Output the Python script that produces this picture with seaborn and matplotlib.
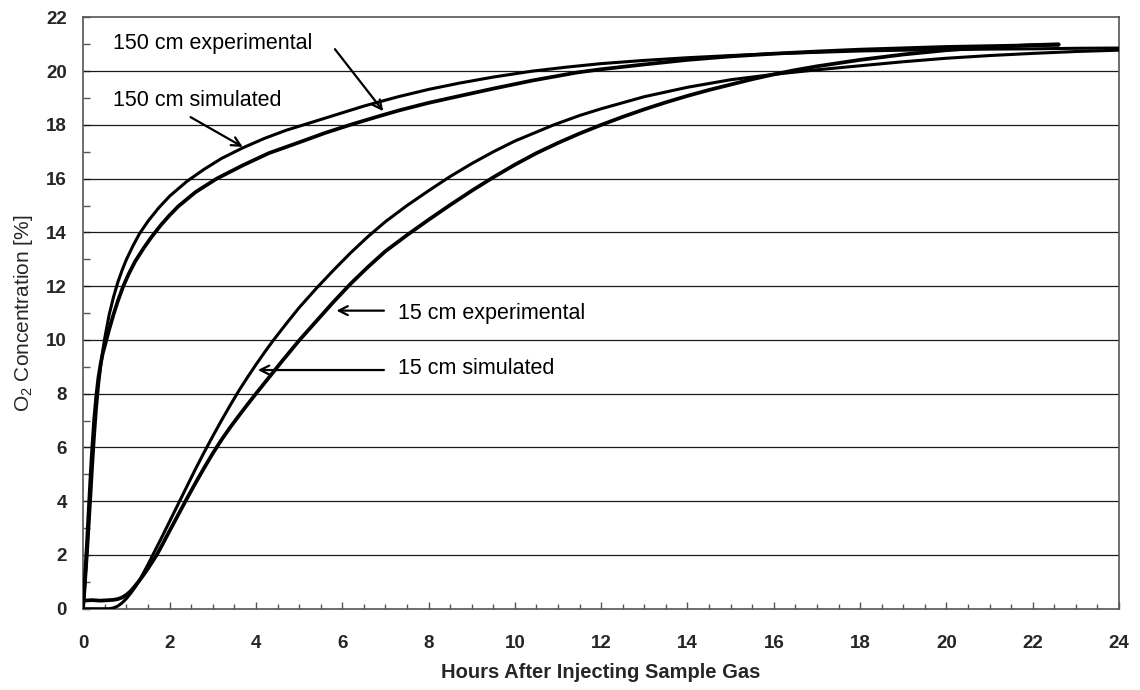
import numpy as np
import pandas as pd
import matplotlib
matplotlib.use("Agg")
import matplotlib.pyplot as plt
from matplotlib.ticker import MultipleLocator
import seaborn as sns

# ---- data ----
t_150_sim = [0.0, 0.02, 0.05, 0.08, 0.1, 0.13, 0.16, 0.2, 0.25, 0.3, 0.35, 0.4, 0.45, 0.5,
             0.6, 0.7, 0.8, 0.9, 1.0, 1.15, 1.3, 1.5, 1.75, 2.0, 2.4, 2.8, 3.2, 3.7, 4.2,
             4.7, 5.2, 5.8, 6.5, 7.3, 8.0, 8.7, 9.5, 10.4, 11.2, 12.0, 13.0, 14.0, 15.0,
             16.0, 17.0, 18.0, 19.0, 20.0, 21.0, 22.0, 23.0, 24.0]
o2_150_sim = [0.0, 0.4, 1.1, 1.8, 2.3, 3.1, 3.9, 5.0, 6.3, 7.4, 8.3, 9.0, 9.6, 10.1,
              10.95, 11.6, 12.15, 12.6, 13.0, 13.5, 13.95, 14.42, 14.92, 15.35, 15.9, 16.35,
              16.75, 17.15, 17.5, 17.8, 18.05, 18.35, 18.7, 19.05, 19.32, 19.55, 19.78,
              20.0, 20.15, 20.28, 20.4, 20.5, 20.58, 20.65, 20.7, 20.75, 20.78, 20.8, 20.82,
              20.83, 20.85, 20.86]

t_150_exp = [0.0, 0.02, 0.05, 0.08, 0.1, 0.13, 0.16, 0.2, 0.25, 0.3, 0.35, 0.4, 0.45, 0.5,
             0.6, 0.7, 0.8, 0.92, 1.05, 1.2, 1.4, 1.58, 1.8, 2.0, 2.2, 2.6, 3.09, 3.7, 4.3,
             5.0, 5.6, 6.18, 6.8, 7.34, 8.0, 8.73, 9.5, 10.4, 11.44, 12.0, 13.0, 14.0, 15.0,
             16.0, 17.0, 18.0, 19.0, 20.0, 21.0, 22.0, 22.6]
o2_150_exp = [0.3, 0.7, 1.5, 2.3, 2.9, 3.8, 4.7, 5.8, 7.0, 7.9, 8.6, 9.1, 9.5, 9.8,
              10.4, 10.95, 11.45, 11.98, 12.45, 12.92, 13.42, 13.83, 14.28, 14.64, 14.97,
              15.5, 16.0, 16.5, 16.95, 17.35, 17.7, 18.0, 18.3, 18.55, 18.82, 19.08, 19.35,
              19.65, 19.95, 20.07, 20.25, 20.42, 20.55, 20.65, 20.73, 20.8, 20.85, 20.9,
              20.93, 20.96, 20.98]

t_15_sim = [0.0, 0.6, 0.7, 0.8, 0.9, 1.0, 1.1, 1.2, 1.3, 1.4, 1.5, 1.6, 1.8, 2.0, 2.2, 2.4,
            2.6, 2.8, 3.0, 3.2, 3.4, 3.6, 3.8, 4.0, 4.2, 4.4, 4.7, 5.0, 5.4, 5.8, 6.2, 6.6,
            7.0, 7.5, 8.0, 8.5, 9.0, 9.5, 10.0, 10.9, 11.5, 12.0, 13.0, 14.0, 15.0, 16.0,
            17.0, 18.0, 19.0, 20.0, 21.0, 22.0, 23.0, 24.0]
o2_15_sim = [0.0, 0.0, 0.03, 0.1, 0.22, 0.38, 0.58, 0.8, 1.05, 1.35, 1.65, 1.97, 2.6, 3.25,
             3.9, 4.55, 5.2, 5.82, 6.42, 7.0, 7.56, 8.1, 8.6, 9.08, 9.54, 9.98, 10.6, 11.2,
             11.92, 12.6, 13.25, 13.85, 14.4, 15.0, 15.55, 16.08, 16.56, 17.0, 17.4, 18.0,
             18.35, 18.6, 19.05, 19.4, 19.68, 19.88, 20.05, 20.2, 20.35, 20.48, 20.58,
             20.66, 20.73, 20.78]

t_15_exp = [0.0, 0.2, 0.4, 0.6, 0.7, 0.8, 0.9, 1.0, 1.1, 1.2, 1.3, 1.4, 1.5, 1.6, 1.7, 1.8,
            2.0, 2.2, 2.4, 2.6, 2.8, 3.0, 3.2, 3.4, 3.6, 3.8, 4.0, 4.3, 4.6, 5.0, 5.4, 5.8,
            6.2, 6.6, 7.0, 7.5, 8.0, 8.5, 9.0, 9.5, 10.0, 10.5, 11.0, 11.5, 12.0, 12.5,
            13.0, 13.5, 14.0, 14.5, 15.0, 15.5, 16.0, 16.5, 17.0, 18.0, 19.0, 20.0, 21.0,
            22.0, 22.6]
o2_15_exp = [0.3, 0.32, 0.3, 0.32, 0.33, 0.36, 0.42, 0.52, 0.66, 0.85, 1.05, 1.27, 1.5,
             1.75, 2.0, 2.29, 2.9, 3.5, 4.1, 4.68, 5.24, 5.78, 6.28, 6.74, 7.17, 7.59, 8.0,
             8.6, 9.2, 9.98, 10.7, 11.42, 12.1, 12.72, 13.3, 13.9, 14.47, 15.02, 15.55,
             16.05, 16.52, 16.95, 17.33, 17.68, 18.0, 18.3, 18.58, 18.84, 19.08, 19.3, 19.5,
             19.7, 19.88, 20.04, 20.18, 20.42, 20.62, 20.78, 20.89, 20.97, 21.0]

x_ticks = list(range(0, 25, 2))
y_ticks = list(range(0, 23, 2))
x_label = "Hours After Injecting Sample Gas"
y_label = "O$_2$ Concentration [%]"

sns.set_theme(style="white")
plt.rcParams["font.family"] = ["Liberation Sans", "DejaVu Sans"]
plt.rcParams["mathtext.fontset"] = "custom"
plt.rcParams["mathtext.rm"] = "Liberation Sans"

fig = plt.figure(figsize=(11.4, 6.9), dpi=100)
ax = fig.add_axes([0.0731, 0.1178, 0.9085, 0.857])

# gridlines first so curves are on top
for yv in y_ticks[1:-1]:
    ax.axhline(yv, color="#1a1a1a", lw=0.9, zorder=1)

series = [
    (t_150_sim, o2_150_sim, 2.2),
    (t_150_exp, o2_150_exp, 2.7),
    (t_15_sim, o2_15_sim, 2.2),
    (t_15_exp, o2_15_exp, 2.7),
]
for t, v, lw in series:
    df = pd.DataFrame({"t": t, "o2": v})
    sns.lineplot(data=df, x="t", y="o2", ax=ax, color="black", lw=lw,
                 estimator=None, sort=False, zorder=3)

ax.set_xlim(0, 24)
ax.set_ylim(0, 22)
ax.set_xticks(x_ticks)
ax.set_yticks(y_ticks)
ax.xaxis.set_minor_locator(MultipleLocator(0.5))
ax.yaxis.set_minor_locator(MultipleLocator(1))
ax.tick_params(axis="both", which="both", direction="in", color="#555555", width=1.0)
ax.tick_params(axis="x", which="major", length=5, pad=19, labelsize=13.5)
ax.tick_params(axis="x", which="minor", length=3.5)
ax.tick_params(axis="y", which="major", length=5, pad=12, labelsize=13.5)
ax.tick_params(axis="y", which="minor", length=5)
ax.tick_params(bottom=True, left=True, top=False, right=False, which="both")
for lab in ax.get_xticklabels() + ax.get_yticklabels():
    lab.set_fontweight("bold")

for sp in ax.spines.values():
    sp.set_color("#555555")
    sp.set_linewidth(1.2)
    sp.set_visible(True)

ax.set_xlabel(x_label, fontsize=14.5, fontweight="bold", labelpad=8)
ax.set_ylabel(y_label, fontsize=15, labelpad=8)

arrow_kw = dict(arrowstyle="->", color="black", lw=1.6, mutation_scale=16)
txt_kw = dict(fontsize=15.5, color="black", va="center", ha="left")

ax.text(0.69, 21.03, "150 cm experimental", **txt_kw)
ax.annotate("", xy=(6.99, 18.43), xytext=(5.79, 20.9), arrowprops=arrow_kw)
ax.text(0.69, 18.92, "150 cm simulated", **txt_kw)
ax.annotate("", xy=(3.75, 17.13), xytext=(2.43, 18.34), arrowprops=arrow_kw)
ax.text(7.29, 11.0, "15 cm experimental", **txt_kw)
ax.annotate("", xy=(5.8, 11.09), xytext=(7.03, 11.09), arrowprops=arrow_kw)
ax.text(7.29, 8.92, "15 cm simulated", **txt_kw)
ax.annotate("", xy=(3.98, 8.88), xytext=(7.03, 8.88), arrowprops=arrow_kw)

fig.savefig("out.png", dpi=100)
